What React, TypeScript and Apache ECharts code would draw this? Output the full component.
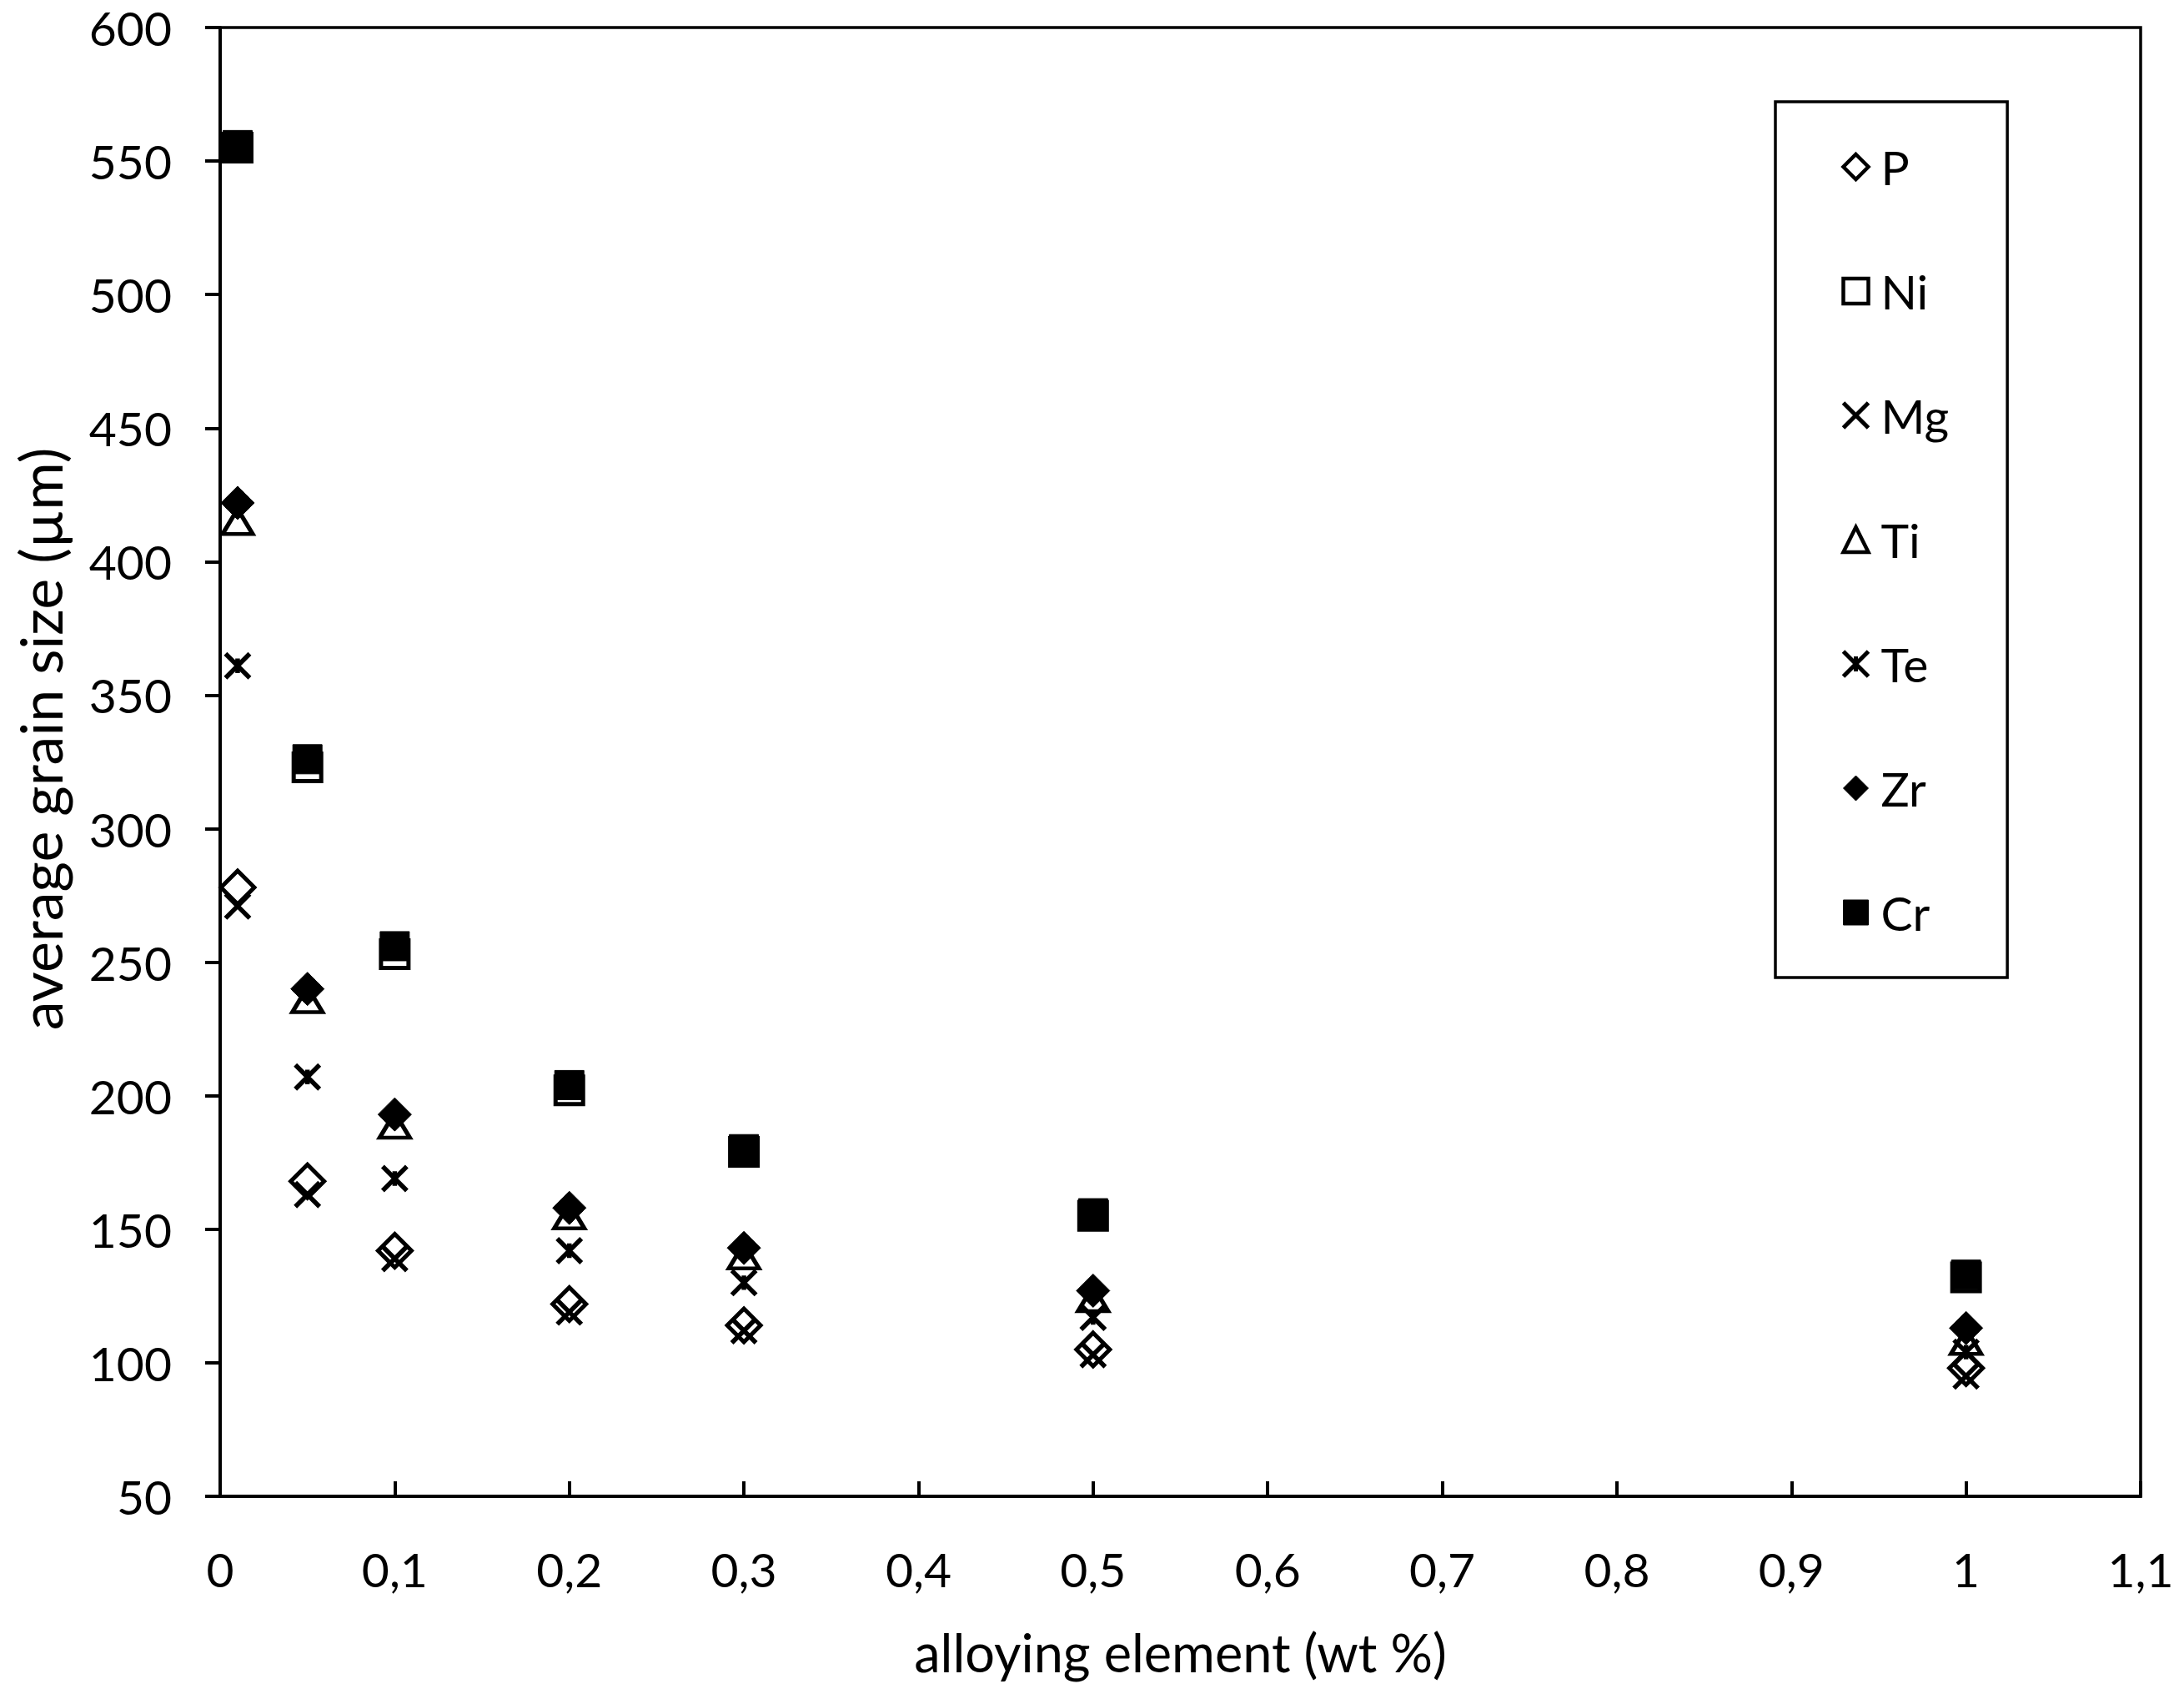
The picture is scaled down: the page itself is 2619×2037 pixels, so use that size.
import React, { useEffect, useRef } from "react";
import * as echarts from "echarts";

const xValues = [0.01, 0.05, 0.1, 0.2, 0.3, 0.5, 1];
const seriesNames = ["P", "Ni", "Mg", "Ti", "Te", "Zr", "Cr"];
const pValues = [278, 168, 142, 122, 114, 105, 98];
const niValues = [555, 323, 253, 202, 179, 155, 132];
const mgValues = [271, 163, 139, 119, 112, 103, 95];
const tiValues = [415, 236, 189, 155, 140, 124, 108];
const teValues = [361, 207, 169, 142, 130, 117, 104];
const zrValues = [422, 240, 193, 158, 143, 127, 113];
const crValues = [556, 326, 256, 204, 180, 156, 133];

const xAxisTitle = "alloying element (wt %)";
const yAxisTitle = "average grain size (µm)";

const FONT = "Lato, 'Open Sans', sans-serif";

function pairs(vals: number[]) {
  return xValues.map((x, i) => [x, vals[i]]);
}

export default function App() {
  const ref = useRef<HTMLDivElement>(null);
  useEffect(() => {
    document.body.style.margin = "0";
    if (!ref.current) return;
    const chart = echarts.init(ref.current, null, { renderer: "svg" });

    const xPath = "path://M0,0L10,10M10,0L0,10";
    const starPath = "path://M0,0L10,10M10,0L0,10M5,2L5,8";

    const styles: Record<string, any> = {
      P: { symbol: "diamond", symbolSize: 40, itemStyle: { color: "#fff", borderColor: "#000", borderWidth: 5, opacity: 1 } },
      Ni: { symbol: "rect", symbolSize: 33, itemStyle: { color: "#fff", borderColor: "#000", borderWidth: 5, opacity: 1 } },
      Mg: { symbol: xPath, symbolSize: 29, itemStyle: { color: "none", borderColor: "#000", borderWidth: 5.5, opacity: 1 } },
      Ti: { symbol: "triangle", symbolSize: [36, 30], itemStyle: { color: "#fff", borderColor: "#000", borderWidth: 5, opacity: 1 } },
      Te: { symbol: starPath, symbolSize: 29, itemStyle: { color: "none", borderColor: "#000", borderWidth: 5.5, opacity: 1 } },
      Zr: { symbol: "diamond", symbolSize: 40, itemStyle: { color: "#000", borderColor: "#000", borderWidth: 1, opacity: 1 } },
      Cr: { symbol: "rect", symbolSize: 35, itemStyle: { color: "#000", borderColor: "#000", borderWidth: 1, opacity: 1 } },
    };
    const legendBorder: Record<string, number> = { P: 4.5, Ni: 4.5, Mg: 5, Ti: 4.5, Te: 5, Zr: 1, Cr: 1 };
    const valueMap: Record<string, number[]> = {
      P: pValues, Ni: niValues, Mg: mgValues, Ti: tiValues, Te: teValues, Zr: zrValues, Cr: crValues,
    };

    const series = seriesNames.map((name) => ({
      name,
      type: "scatter",
      data: pairs(valueMap[name]),
      symbol: styles[name].symbol,
      symbolSize: styles[name].symbolSize,
      itemStyle: styles[name].itemStyle,
      emphasis: { disabled: true },
    }));

    chart.setOption({
      animation: false,
      backgroundColor: "#fff",
      textStyle: { fontFamily: FONT },
      grid: {
        left: 264,
        right: 52,
        top: 33,
        bottom: 243,
        show: true,
        borderColor: "#000",
        borderWidth: 3.5,
        containLabel: false,
      },
      xAxis: {
        type: "value",
        min: 0,
        max: 1.1,
        interval: 0.1,
        name: xAxisTitle,
        nameLocation: "middle",
        nameGap: 155,
        nameTextStyle: { fontSize: 63, color: "#000", fontFamily: FONT },
        axisLine: { show: true, onZero: false, lineStyle: { color: "#000", width: 4 } },
        axisTick: { show: true, inside: true, length: 18, lineStyle: { color: "#000", width: 4 } },
        axisLabel: {
          fontSize: 57,
          color: "#000",
          margin: 58,
          fontFamily: FONT,
          formatter: (v: number) => String(Math.round(v * 10) / 10).replace(".", ","),
        },
        splitLine: { show: false },
      },
      yAxis: {
        type: "value",
        min: 50,
        max: 600,
        interval: 50,
        axisLine: { show: true, onZero: false, lineStyle: { color: "#000", width: 4 } },
        axisTick: { show: true, inside: false, length: 18, lineStyle: { color: "#000", width: 4 } },
        axisLabel: { fontSize: 57, color: "#000", margin: 58, fontFamily: FONT },
        splitLine: { show: false },
      },
      legend: {
        orient: "vertical",
        left: 2129,
        top: 122,
        data: seriesNames.map((name) => ({
          name,
          itemStyle: { borderWidth: legendBorder[name], borderColor: "#000" },
        })),
        itemWidth: 30,
        itemHeight: 30,
        itemGap: 89,
        padding: [48, 70, 48, 79],
        borderColor: "#000",
        borderWidth: 3.5,
        selectedMode: false,
        textStyle: { fontSize: 57, color: "#000", lineHeight: 60, fontFamily: FONT, padding: [0, 0, 0, 10] },
      },
      graphic: [
        {
          type: "text",
          x: 48,
          y: 886,
          rotation: Math.PI / 2,
          style: {
            text: yAxisTitle,
            fontSize: 70,
            fontFamily: FONT,
            fill: "#000",
            textAlign: "center",
            textVerticalAlign: "middle",
          },
        },
      ],
      series,
    });
    return () => chart.dispose();
  }, []);
  return <div ref={ref} style={{ width: 2619, height: 2037 }} />;
}
